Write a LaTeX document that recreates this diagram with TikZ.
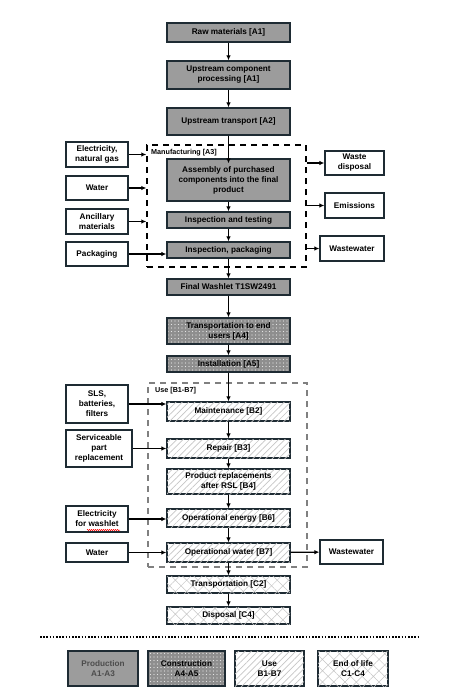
\documentclass[tikz,border=0pt]{standalone}
\usepackage{fontspec}
\setmainfont{Liberation Sans}
\usetikzlibrary{patterns,patterns.meta,arrows.meta,decorations.pathmorphing}

\definecolor{edge}{HTML}{1E2B33}
\definecolor{prodgray}{HTML}{9C9C9C}
\definecolor{consgray}{HTML}{8E8E8E}

\begin{document}
\begin{tikzpicture}[x=1pt,y=-1pt,
  every node/.style={font=\fontsize{8.2}{10}\selectfont\bfseries, align=center, inner sep=1pt},
  prod/.style={draw=edge, line width=1.3pt, fill=prodgray, minimum width=123pt},
  cons/.style={draw=edge, line width=1.3pt, preaction={fill=consgray}, pattern={Dots[distance=3.5pt, radius=0.7pt]}, pattern color=white!80!gray, minimum width=123pt},
  usebox/.style={draw=edge, line width=1.3pt, fill=white, postaction={pattern={Lines[angle=45, distance=4.5pt, line width=0.7pt]}, pattern color=gray!45}, minimum width=123pt},
  eol/.style={draw=edge, line width=1.3pt, fill=white, postaction={pattern={Hatch[angle=45, distance=8pt, line width=0.5pt]}, pattern color=gray!45}, minimum width=123pt},
  inout/.style={draw=edge, line width=1.3pt, fill=white, minimum width=62pt},
  flow/.style={line width=1.3pt, -{Latex[length=5pt,width=4.5pt]}},
  stage/.style={draw, line width=1.4pt, dash pattern=on 6pt off 5pt}]

\useasboundingbox[fill=white] (0,0) rectangle (450,699);

% stage frames
\node[stage, minimum width=159pt, minimum height=122pt] (mfg) at (226.5,206) {};
\node[stage, draw=gray, minimum width=159pt, minimum height=184pt] (use) at (227.5,475) {};
\node[anchor=west, font=\fontsize{7.2}{8}\selectfont\bfseries] at (150,153) {Manufacturing [A3]};
\node[anchor=west, font=\fontsize{7.2}{8}\selectfont\bfseries] at (154,391) {Use [B1-B7]};

% production A1-A3
\node[prod, minimum height=19pt] (raw) at (228.5,32.5) {Raw materials [A1]};
\node[prod, minimum height=28pt] (upproc) at (228.5,75) {Upstream component\\processing [A1]};
\node[prod, minimum height=27pt] (uptrans) at (228.5,121.5) {Upstream transport [A2]};
\node[prod, minimum height=42pt] (assembly) at (228.5,180) {Assembly of purchased\\components into the final\\product};
\node[prod, minimum height=16pt] (testing) at (228.5,220) {Inspection and testing};
\node[prod, minimum height=16pt] (packing) at (228.5,250) {Inspection, packaging};
\node[prod, minimum height=16pt] (final) at (228.5,287) {Final Washlet T1SW2491};

% construction A4-A5
\node[cons, minimum height=26pt] (toend) at (228.5,331) {Transportation to end\\users [A4]};
\node[cons, minimum height=16pt] (install) at (228.5,364) {Installation [A5]};

% use B1-B7
\node[usebox, minimum height=19pt] (maint) at (228.5,411.5) {Maintenance [B2]};
\node[usebox, minimum height=19pt] (repair) at (228.5,448.5) {Repair [B3]};
\node[usebox, minimum height=25pt] (replace) at (228.5,481.5) {Product replacements\\after RSL [B4]};
\node[usebox, minimum height=18pt] (energy) at (228.5,518) {Operational energy [B6]};
\node[usebox, minimum height=19pt] (opwater) at (228.5,552.5) {Operational water [B7]};

% end of life C1-C4
\node[eol, minimum height=17pt] (transport) at (228.5,584.5) {Transportation [C2]};
\node[eol, minimum height=17pt] (disposal) at (228.5,615.5) {Disposal [C4]};

% inputs
\node[inout, minimum height=25pt] (elec) at (97,154.5) {Electricity,\\natural gas};
\node[inout, minimum height=24pt] (water) at (97,188) {Water};
\node[inout, minimum height=25pt] (ancil) at (97,221.5) {Ancillary\\materials};
\node[inout, minimum height=24pt] (pack) at (97,254) {Packaging};
\node[inout, minimum height=38pt] (sls) at (97,404) {SLS,\\batteries,\\filters};
\node[inout, minimum width=66pt, minimum height=37pt] (spare) at (99,448.5) {Serviceable\\part\\replacement};
\node[inout, minimum height=26pt] (elecw) at (97,519) {Electricity\\for washlet};
\node[inout, minimum height=19pt] (waterw) at (97,552.5) {Water};

% outputs
\node[inout, minimum width=59pt, minimum height=24pt] (wastedisp) at (354.5,163) {Waste\\disposal};
\node[inout, minimum width=59pt, minimum height=25pt] (emis) at (354.5,205.5) {Emissions};
\node[inout, minimum width=64pt, minimum height=25pt] (wwmfg) at (352,248.5) {Wastewater};
\node[inout, minimum width=63pt, minimum height=24pt] (wwuse) at (351.5,552) {Wastewater};

\draw[red, line width=0.5pt, decorate, decoration={snake, amplitude=0.6pt, segment length=2pt}] (87,530) -- (120,530);

% main flow
\draw[flow] (raw) -- (upproc);
\draw[flow] (upproc) -- (uptrans);
\draw[flow] (uptrans.south) -- ([yshift=-5pt]assembly.north);
\draw[flow] (assembly) -- (testing);
\draw[flow] (testing) -- (packing);
\draw[flow] (packing) -- (final);
\draw[flow] (final) -- (toend);
\draw[flow] (toend) -- (install);
\draw[flow] (install) -- (maint);
\draw[flow] (maint) -- (repair);
\draw[flow] (repair) -- (replace);
\draw[flow] (replace) -- (energy);
\draw[flow] (energy) -- (opwater);
\draw[flow] (opwater) -- (transport);
\draw[flow] (transport) -- (disposal);

% side flows
\draw[flow] (elec) -- (elec -| mfg.west);
\draw[flow] (water) -- (water -| mfg.west);
\draw[flow] (ancil) -- (ancil -| mfg.west);
\draw[flow] (pack) -- (pack -| packing.west);
\draw[flow] (mfg.east |- wastedisp) -- (wastedisp);
\draw[flow] (mfg.east |- emis) -- (emis);
\draw[flow] (mfg.east |- wwmfg) -- (wwmfg);
\draw[flow] (sls) -- (sls -| maint.west);
\draw[flow] (spare) -- (spare -| repair.west);
\draw[flow] (elecw) -- (elecw -| energy.west);
\draw[flow] (waterw) -- (opwater);
\draw[flow] (opwater) -- (wwuse);

% legend
\coordinate (sepL) at (40,637);
\coordinate (sepR) at (420,637);
\draw[line width=1.6pt, dash pattern=on 1.6pt off 1.6pt] (sepL) -- (sepR);
\node[prod, minimum width=70pt, minimum height=35pt, text=black!70] (legprod) at (103,668.5) {Production\\A1-A3};
\node[cons, minimum width=77pt, minimum height=35pt] (legcons) at (186.5,668.5) {Construction\\A4-A5};
\node[usebox, minimum width=69pt, minimum height=35pt] (leguse) at (269.5,668.5) {Use\\B1-B7};
\node[eol, minimum width=70pt, minimum height=35pt] (legeol) at (353,668.5) {End of life\\C1-C4};

\end{tikzpicture}
\end{document}
